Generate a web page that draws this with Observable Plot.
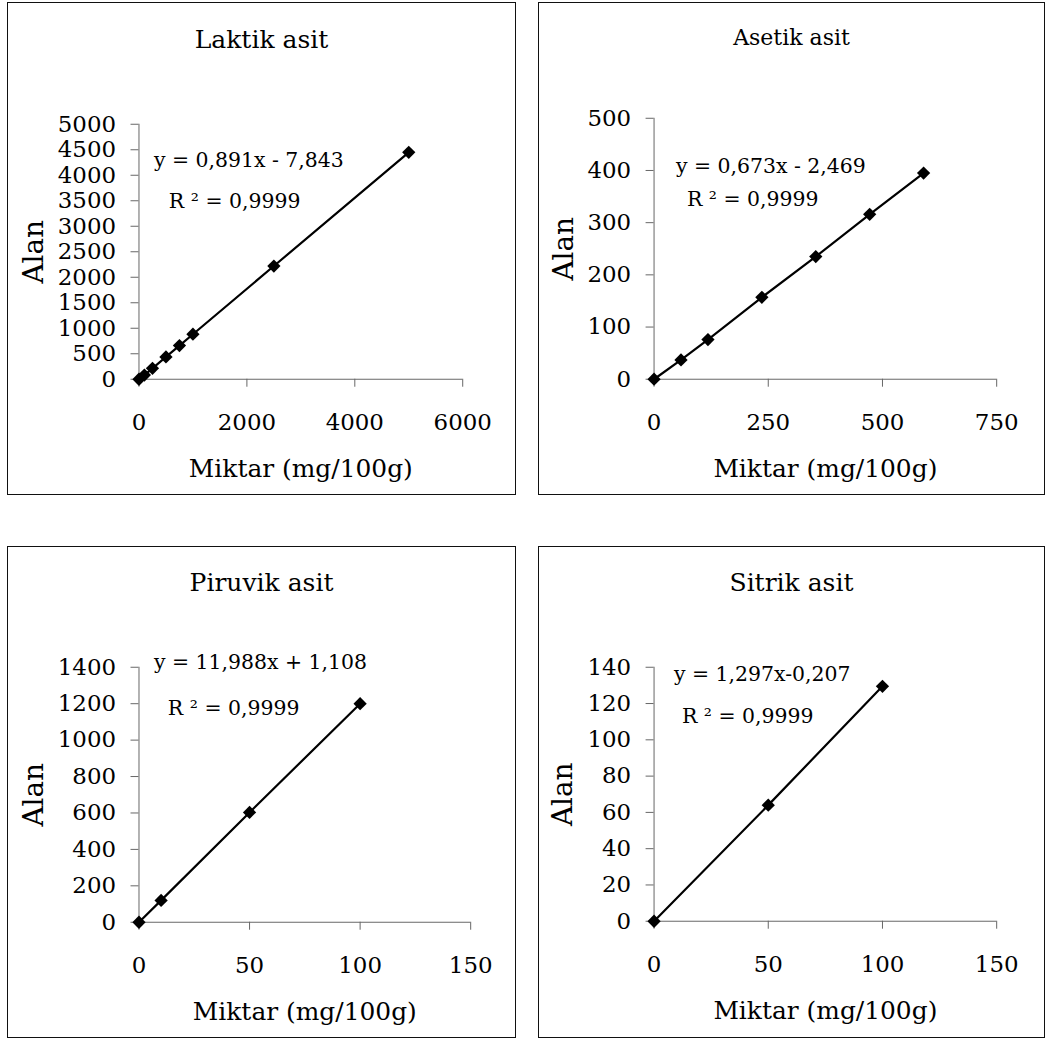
<!DOCTYPE html>
<html>
<head>
<meta charset="utf-8">
<script src="https://cdn.jsdelivr.net/npm/d3@7"></script>
<script src="https://cdn.jsdelivr.net/npm/@observablehq/plot@0.6"></script>
<style>
  html, body { margin: 0; padding: 0; background: #fff; }
  body { width: 1047px; height: 1039px; position: relative; overflow: hidden; font-family: "DejaVu Serif", serif; }
  .panel { position: absolute; box-sizing: border-box; border: 1.5px solid #111; background: #fff; }
  .title { position: absolute; left: 0; right: 0; text-align: center; line-height: 1; color: #000; white-space: nowrap; }
  .panel svg { position: absolute; left: 0; overflow: visible; }
</style>
</head>
<body>
<script>
// ---- data ----
const titles = ["Laktik asit", "Asetik asit", "Piruvik asit", "Sitrik asit"];
const xLabel = "Miktar (mg/100g)";
const yLabel = "Alan";
const equations = ["y = 0,891x - 7,843", "y = 0,673x - 2,469", "y = 11,988x + 1,108", "y = 1,297x-0,207"];
const r2Labels = ["R ² = 0,9999", "R ² = 0,9999", "R ² = 0,9999", "R ² = 0,9999"];

const laktikX = [0, 100, 250, 500, 750, 1000, 2500, 5000];
const laktikY = [0, 82, 215, 438, 660, 883, 2220, 4450];
const asetikX = [0, 59, 118, 236, 354, 472, 590];
const asetikY = [0, 37, 76, 157, 235, 316, 395];
const piruvikX = [0, 10, 50, 100];
const piruvikY = [0, 120, 603, 1200];
const sitrikX = [0, 50, 100];
const sitrikY = [0, 64, 129.5];

const laktikXTicks = [0, 2000, 4000, 6000];
const laktikYTicks = [0, 500, 1000, 1500, 2000, 2500, 3000, 3500, 4000, 4500, 5000];
const asetikXTicks = [0, 250, 500, 750];
const asetikYTicks = [0, 100, 200, 300, 400, 500];
const piruvikXTicks = [0, 50, 100, 150];
const piruvikYTicks = [0, 200, 400, 600, 800, 1000, 1200, 1400];
const sitrikXTicks = [0, 50, 100, 150];
const sitrikYTicks = [0, 20, 40, 60, 80, 100, 120, 140];

// ---- layout (pixels) ----
const layouts = [
  {box: {left: 7, top: 2, w: 509, h: 493}, frame: {l: 131, t: 121, r: 456, b: 377}, titleSize: 25, titleBase: 46, eq: [15, 43], r2: [30, 84], alanX: 26},
  {box: {left: 538, top: 2, w: 507, h: 493}, frame: {l: 115, t: 115, r: 459, b: 377}, titleSize: 22, titleBase: 43, eq: [22, 55], r2: [33, 88], alanX: 25},
  {box: {left: 7, top: 546, w: 509, h: 492}, frame: {l: 131, t: 120, r: 464, b: 376}, titleSize: 25, titleBase: 45, eq: [15, 2], r2: [29, 48], alanX: 26},
  {box: {left: 538, top: 546, w: 507, h: 492}, frame: {l: 115, t: 120, r: 459, b: 375}, titleSize: 25, titleBase: 45, eq: [20, 14], r2: [28, 56], alanX: 24}
];

const series = [
  {xs: laktikX, ys: laktikY, xt: laktikXTicks, yt: laktikYTicks},
  {xs: asetikX, ys: asetikY, xt: asetikXTicks, yt: asetikYTicks},
  {xs: piruvikX, ys: piruvikY, xt: piruvikXTicks, yt: piruvikYTicks},
  {xs: sitrikX, ys: sitrikY, xt: sitrikXTicks, yt: sitrikYTicks}
];

const FONT = '"DejaVu Serif", serif';
const SVG_TOP = 60;
const AXIS = "#666";
const TICK_FS = 23;
const EQ_FS = 20.5;

series.forEach((s, i) => {
  const L = layouts[i];
  const data = s.xs.map((x, k) => ({x, y: s.ys[k]}));
  const panel = document.createElement("div");
  panel.className = "panel";
  Object.assign(panel.style, {left: L.box.left + "px", top: L.box.top + "px", width: L.box.w + "px", height: L.box.h + "px"});

  const title = document.createElement("div");
  title.className = "title";
  title.textContent = titles[i];
  title.style.fontSize = L.titleSize + "px";
  title.style.top = (L.titleBase - Math.round(L.titleSize * 0.86)) + "px";
  panel.appendChild(title);

  const svgH = L.box.h - SVG_TOP;
  const chart = Plot.plot({
    width: L.box.w,
    height: svgH,
    marginLeft: L.frame.l,
    marginRight: L.box.w - L.frame.r,
    marginTop: L.frame.t - SVG_TOP,
    marginBottom: L.box.h - L.frame.b,
    x: {domain: [s.xt[0], s.xt[s.xt.length - 1]]},
    y: {domain: [s.yt[0], s.yt[s.yt.length - 1]]},
    style: {fontFamily: FONT, color: "#000", background: "transparent", overflow: "visible"},
    marks: [
      Plot.axisX({ticks: s.xt, tickSize: 8, tickPadding: 27, fontSize: TICK_FS, label: null, stroke: AXIS, tickFormat: d3.format("d")}),
      Plot.axisY({ticks: s.yt, tickSize: 8, tickPadding: 15, fontSize: TICK_FS, label: null, stroke: AXIS, tickFormat: d3.format("d")}),
      Plot.ruleY([s.yt[0]], {stroke: AXIS}),
      Plot.ruleX([s.xt[0]], {stroke: AXIS}),
      Plot.line(data, {x: "x", y: "y", stroke: "#000", strokeWidth: 2.2}),
      Plot.dot(data, {x: "x", y: "y", symbol: "diamond2", r: 6, fill: "#000", stroke: "none"}),
      Plot.text([equations[i]], {frameAnchor: "top-left", textAnchor: "start", lineAnchor: "bottom", dx: L.eq[0], dy: L.eq[1], fontSize: EQ_FS, fill: "#000"}),
      Plot.text([r2Labels[i]], {frameAnchor: "top-left", textAnchor: "start", lineAnchor: "bottom", dx: L.r2[0], dy: L.r2[1], fontSize: EQ_FS, fill: "#000"}),
      Plot.text([yLabel], {frameAnchor: "left", textAnchor: "middle", lineAnchor: "middle", rotate: -90, dx: -(L.frame.l - L.alanX), fontSize: 28, fill: "#000"}),
      Plot.text([xLabel], {frameAnchor: "bottom", textAnchor: "middle", lineAnchor: "bottom", dy: 98, fontSize: 25, fill: "#000"})
    ]
  });
  chart.style.top = SVG_TOP + "px";
  panel.appendChild(chart);
  document.body.appendChild(panel);
});
</script>
</body>
</html>
